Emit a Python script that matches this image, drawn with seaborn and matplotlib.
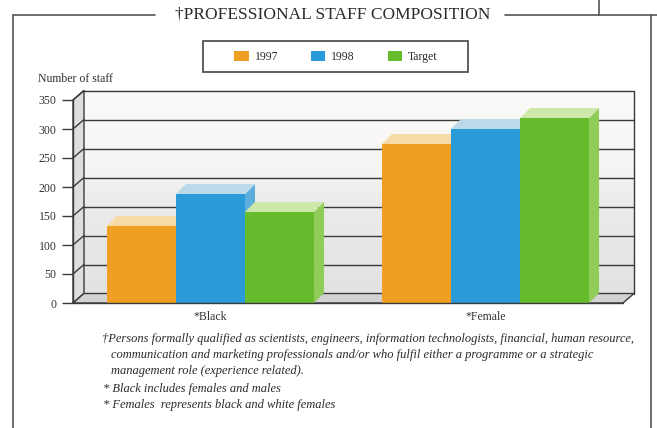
import numpy as np
import pandas as pd
import matplotlib
matplotlib.use("Agg")
import matplotlib.pyplot as plt
import seaborn as sns
from matplotlib.patches import Polygon, Rectangle
from matplotlib.lines import Line2D
from matplotlib.colors import LinearSegmentedColormap, to_rgb

# ---- data ----
groups = ["*Black", "*Female"]
years = ["1997", "1998", "Target"]
black_staff = [133, 188, 157]
female_staff = [274, 300, 319]
y_ticks = [0, 50, 100, 150, 200, 250, 300, 350]

title = "\u2020PROFESSIONAL STAFF COMPOSITION"
y_label = "Number of staff"
notes = [
    "\u2020Persons formally qualified as scientists, engineers, information technologists, financial, human resource,",
    "communication and marketing professionals and/or who fulfil either a programme or a strategic",
    "management role (experience related).",
    "* Black includes females and males",
    "* Females  represents black and white females",
]

# ---- colours for the three faces of each bar ----
front_colors = ["#EFA023", "#2A9BD8", "#67BC2E"]
top_colors = ["#F6DBA6", "#BCD9EA", "#CDE8A8"]
side_colors = ["#F3BC62", "#5DAEDC", "#8FCC58"]
edge = "#3a3a3a"

df = pd.DataFrame({
    "group": np.repeat(groups, len(years)),
    "year": years * len(groups),
    "staff": black_staff + female_staff,
})

sns.set_style("white")
plt.rcParams["font.family"] = ["Liberation Serif", "DejaVu Serif"]
plt.rcParams["text.color"] = "#2b2b2b"

W, H = 657, 428
fig = plt.figure(figsize=(W / 100, H / 100), dpi=100)
fig.patch.set_facecolor("white")

# front plane of the 3-D box, in pixels
L, R, B, T = 73, 623, 303, 100
ax = fig.add_axes([L / W, 1 - B / H, (R - L) / W, (B - T) / H])
ax.set_facecolor("none")

sns.barplot(data=df, x="group", y="staff", hue="year", hue_order=years,
            palette=front_colors, saturation=1, width=0.753, gap=0,
            linewidth=0, ax=ax)
ax.set_xlim(-0.5, 1.5)
ax.set_ylim(0, 350)

# pixel depth offsets expressed in data units
px_x = 2.0 / (R - L)
px_y = 350.0 / (B - T)
wdx, wdy = 11 * px_x, 9.5 * px_y     # walls / floor depth
bdx, bdy = 10 * px_x, 10 * px_y      # bar depth
x0, x1 = -0.5, 1.5

# back wall with a soft vertical shade
cmap = LinearSegmentedColormap.from_list(
    "wall", [(0, "#E2E2E2"), (0.45, "#ECECEC"), (0.62, "#F6F5F3"), (1, "#FCFBF9")])
grad = np.linspace(0, 1, 200).reshape(-1, 1)
ax.imshow(grad, cmap=cmap, origin="lower", aspect="auto",
          extent=(x0 + wdx, x1 + wdx, wdy, 350 + wdy), zorder=0, clip_on=False)

for v in y_ticks[1:-1]:
    ax.add_line(Line2D([x0 + wdx, x1 + wdx], [v + wdy, v + wdy], color=edge,
                       lw=1.0, zorder=1, clip_on=False))
ax.add_line(Line2D([x0 + wdx, x1 + wdx, x1 + wdx], [350 + wdy, 350 + wdy, wdy],
                   color=edge, lw=1.0, zorder=1, clip_on=False))

# left wall
ax.add_patch(Polygon([(x0, 0), (x0 + wdx, wdy), (x0 + wdx, 350 + wdy), (x0, 350)],
                     closed=True, facecolor="#DEDEDE", edgecolor=edge, lw=1.0,
                     zorder=2, clip_on=False))
for v in y_ticks:
    ax.add_line(Line2D([x0, x0 + wdx], [v, v + wdy], color=edge, lw=1.0,
                       zorder=2, clip_on=False))

# floor
ax.add_patch(Polygon([(x0, 0), (x1, 0), (x1 + wdx, wdy), (x0 + wdx, wdy)],
                     closed=True, facecolor="#D2D2D2", edgecolor=edge, lw=1.0,
                     zorder=2, clip_on=False))

# extrude each bar: side and top faces, drawn left to right
bars = sorted([p for p in ax.patches
               if isinstance(p, Rectangle) and p.get_height() > 0 and p.get_width() < 1],
              key=lambda p: p.get_x())
for i, bar in enumerate(bars):
    bx, bw, bh = bar.get_x(), bar.get_width(), bar.get_height()
    fc = np.array(bar.get_facecolor()[:3])
    k = int(np.argmin([np.sum((np.array(to_rgb(c)) - fc) ** 2) for c in front_colors]))
    z = 10 + 3 * i
    ax.add_patch(Polygon([(bx + bw, 0), (bx + bw + bdx, bdy), (bx + bw + bdx, bh + bdy), (bx + bw, bh)],
                         closed=True, facecolor=side_colors[k], lw=0, zorder=z, clip_on=False))
    ax.add_patch(Polygon([(bx, bh), (bx + bw, bh), (bx + bw + bdx, bh + bdy), (bx + bdx, bh + bdy)],
                         closed=True, facecolor=top_colors[k], lw=0, zorder=z + 1, clip_on=False))
    bar.set_zorder(z + 2)
    bar.set_clip_on(False)

# front edges of the box
ax.add_line(Line2D([x0, x0], [0, 350], color=edge, lw=1.0, zorder=3, clip_on=False))
ax.add_line(Line2D([x0, x1], [0, 0], color=edge, lw=1.0, zorder=40, clip_on=False))

for s in ax.spines.values():
    s.set_visible(False)
ax.set_yticks(y_ticks)
ax.set_yticklabels([str(v) for v in y_ticks])
ax.tick_params(axis="y", left=True, length=8, width=1.0, color=edge, pad=4,
               labelsize=8.5, labelcolor="#333333")
ax.tick_params(axis="x", length=0, pad=6, labelsize=8.5, labelcolor="#333333")
ax.set_xlabel("")
ax.set_ylabel("")

# legend in its own box
handles, labels = ax.get_legend_handles_labels()
if ax.get_legend() is not None:
    ax.get_legend().remove()
fig.patches.append(Rectangle((203 / W, 1 - 72 / H), 265 / W, 31 / H,
                             transform=fig.transFigure, facecolor="white",
                             edgecolor="#444444", lw=1.2))
fig.legend(handles, labels, loc="center", bbox_to_anchor=(336 / W, 1 - 57 / H),
           ncol=3, frameon=False, fontsize=8.5, handlelength=1.2,
           handleheight=0.95, handletextpad=0.5, columnspacing=2.8,
           borderpad=0)

# outer frame with the title set into its top edge
fl = dict(color="#555555", lw=1.2, transform=fig.transFigure)
fig.add_artist(Line2D([13 / W, 13 / W], [0, 1 - 15 / H], **fl))
fig.add_artist(Line2D([13 / W, 155 / W], [1 - 15 / H, 1 - 15 / H], **fl))
fig.add_artist(Line2D([505 / W, 1], [1 - 15 / H, 1 - 15 / H], **fl))
fig.add_artist(Line2D([599 / W, 599 / W], [1, 1 - 15 / H], **fl))
fig.add_artist(Line2D([651 / W, 651 / W], [0, 1 - 15 / H], **fl))

fig.text(333 / W, 1 - 15 / H, title, ha="center", va="center", fontsize=12.5,
         color="#2b2b2b")
fig.text(38 / W, 1 - 79 / H, y_label, ha="left", va="center", fontsize=8.5,
         color="#333333")

note_pos = [(102, 339), (111, 355), (111, 371), (103, 389), (103, 405)]
for (nx, ny), line in zip(note_pos, notes):
    fig.text(nx / W, 1 - ny / H, line, ha="left", va="center", fontsize=9.0,
             style="italic", color="#2b2b2b")

fig.savefig("out.png", dpi=100)
